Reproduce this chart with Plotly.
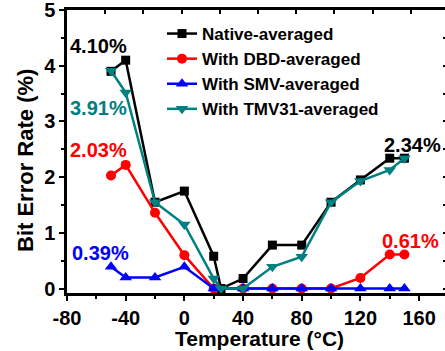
import plotly.graph_objects as go

temps_native = [-50, -40, -20, 0, 20, 25, 40, 60, 80, 100, 120, 140, 150]
native = [3.90, 4.10, 1.55, 1.75, 0.58, 0.0, 0.18, 0.78, 0.78, 1.55, 1.95, 2.34, 2.34]

temps_dbd = [-50, -40, -20, 0, 20, 40, 60, 80, 100, 120, 140, 150]
dbd = [2.03, 2.22, 1.36, 0.60, 0.0, 0.0, 0.0, 0.0, 0.0, 0.19, 0.61, 0.61]

temps_smv = [-50, -40, -20, 0, 20, 40, 60, 80, 100, 120, 140, 150]
smv = [0.39, 0.20, 0.20, 0.39, 0.0, 0.0, 0.0, 0.0, 0.0, 0.0, 0.0, 0.0]

temps_tmv = [-50, -40, -20, 0, 20, 25, 40, 60, 80, 100, 120, 140, 150]
tmv = [3.91, 3.52, 1.55, 1.15, 0.18, 0.0, 0.0, 0.39, 0.57, 1.55, 1.93, 2.13, 2.34]

names = ["Native-averaged", "With DBD-averaged", "With SMV-averaged", "With TMV31-averaged"]
colors = ["#000000", "#FF0000", "#0000FF", "#008080"]
symbols = ["square", "circle", "triangle-up", "triangle-down"]
sizes = [9, 10, 11, 11]

x_ticks = [-80, -40, 0, 40, 80, 120, 160]
y_ticks = [0, 1, 2, 3, 4, 5]

FONT = "Arial, Liberation Sans, sans-serif"
YTOP = 5.001
XMAX = -80 + 378 / 1.467

fig = go.Figure()
for xs, ys, nm, c, s, sz in zip([temps_native, temps_dbd, temps_smv, temps_tmv],
                                [native, dbd, smv, tmv], names, colors, symbols, sizes):
    fig.add_trace(go.Scatter(x=xs, y=ys, name=nm, mode="lines+markers",
                             line=dict(color=c, width=2.5),
                             marker=dict(symbol=s, size=sz, color=c)))

annots = [
    ("4.10%", -58.2, 4.35, "#000000"),
    ("3.91%", -58.2, 3.24, "#008080"),
    ("2.03%", -58.2, 2.49, "#FF0000"),
    ("0.39%", -57.0, 0.63, "#0000FF"),
    ("2.34%", 155.5, 2.57, "#000000"),
    ("0.61%", 154.2, 0.85, "#FF0000"),
]
for t, ax_, ay_, c in annots:
    fig.add_annotation(x=ax_, y=ay_, text="<b>%s</b>" % t, showarrow=False,
                       font=dict(family=FONT, size=20, color=c),
                       xanchor="center", yanchor="middle")

fig.add_annotation(xref="paper", yref="paper", x=(259 - 67) / 378, y=(293 - 338) / 283,
                   text="<b>Temperature (°C)</b>", showarrow=False,
                   font=dict(family=FONT, size=21, color="black"),
                   xanchor="center", yanchor="middle")
fig.add_annotation(xref="paper", yref="paper", x=(25 - 67) / 378, y=(293 - 161) / 283,
                   text="<b>Bit Error Rate (%)</b>", showarrow=False, textangle=-90,
                   font=dict(family=FONT, size=22, color="black"),
                   xanchor="center", yanchor="middle")

# invisible traces so the top tick axis and right tick axis are drawn
fig.add_trace(go.Scatter(x=[1], y=[1], xaxis="x2", yaxis="y", mode="markers",
                         marker=dict(opacity=0), showlegend=False, hoverinfo="skip"))
fig.add_trace(go.Scatter(x=[0], y=[1], xaxis="x", yaxis="y2", mode="markers",
                         marker=dict(opacity=0), showlegend=False, hoverinfo="skip"))

fig.update_layout(
    width=445, height=351,
    margin=dict(l=67, r=0, t=10, b=58),
    paper_bgcolor="white", plot_bgcolor="white",
    font=dict(family=FONT, color="black"),
    showlegend=True,
    legend=dict(x=(162 - 67) / 378, y=1 - (16 - 10) / 283, xanchor="left", yanchor="top",
                bgcolor="rgba(0,0,0,0)", borderwidth=0, tracegroupgap=0,
                font=dict(family=FONT, size=17, color="black", weight="bold")),
    xaxis=dict(range=[-80, XMAX], tickvals=x_ticks,
               ticktext=["<b>%d</b>" % v for v in x_ticks],
               tickfont=dict(family=FONT, size=20, color="black"),
               showgrid=False, zeroline=False, showline=True, mirror=True,
               linecolor="black", linewidth=2.5,
               ticks="outside", ticklen=5, tickwidth=2, tickcolor="black",
               minor=dict(dtick=20, ticks="outside", ticklen=3, tickwidth=2, tickcolor="black")),
    yaxis=dict(range=[-0.08, YTOP], tickvals=y_ticks,
               ticktext=["<b>%d</b>" % v for v in y_ticks],
               tickfont=dict(family=FONT, size=20, color="black"),
               ticklabeloverflow="allow",
               showgrid=False, zeroline=False, showline=True, linecolor="black", linewidth=2.5,
               ticks="outside", ticklen=5, tickwidth=2, tickcolor="black",
               minor=dict(dtick=0.5, ticks="outside", ticklen=3, tickwidth=2, tickcolor="black")),
    xaxis2=dict(overlaying="x", side="top", anchor="y", range=[0, 378 / 38.2], dtick=1, tick0=0,
                showticklabels=False, showgrid=False, zeroline=False, showline=False,
                ticks="inside", ticklen=4, tickwidth=2, tickcolor="black"),
    yaxis2=dict(overlaying="y", side="right", anchor="x", range=[-0.08, YTOP], dtick=0.5, tick0=0,
                showticklabels=False, showgrid=False, zeroline=False, showline=False,
                ticks="inside", ticklen=2, tickwidth=2, tickcolor="black"),
)

fig.write_html("out.html")
